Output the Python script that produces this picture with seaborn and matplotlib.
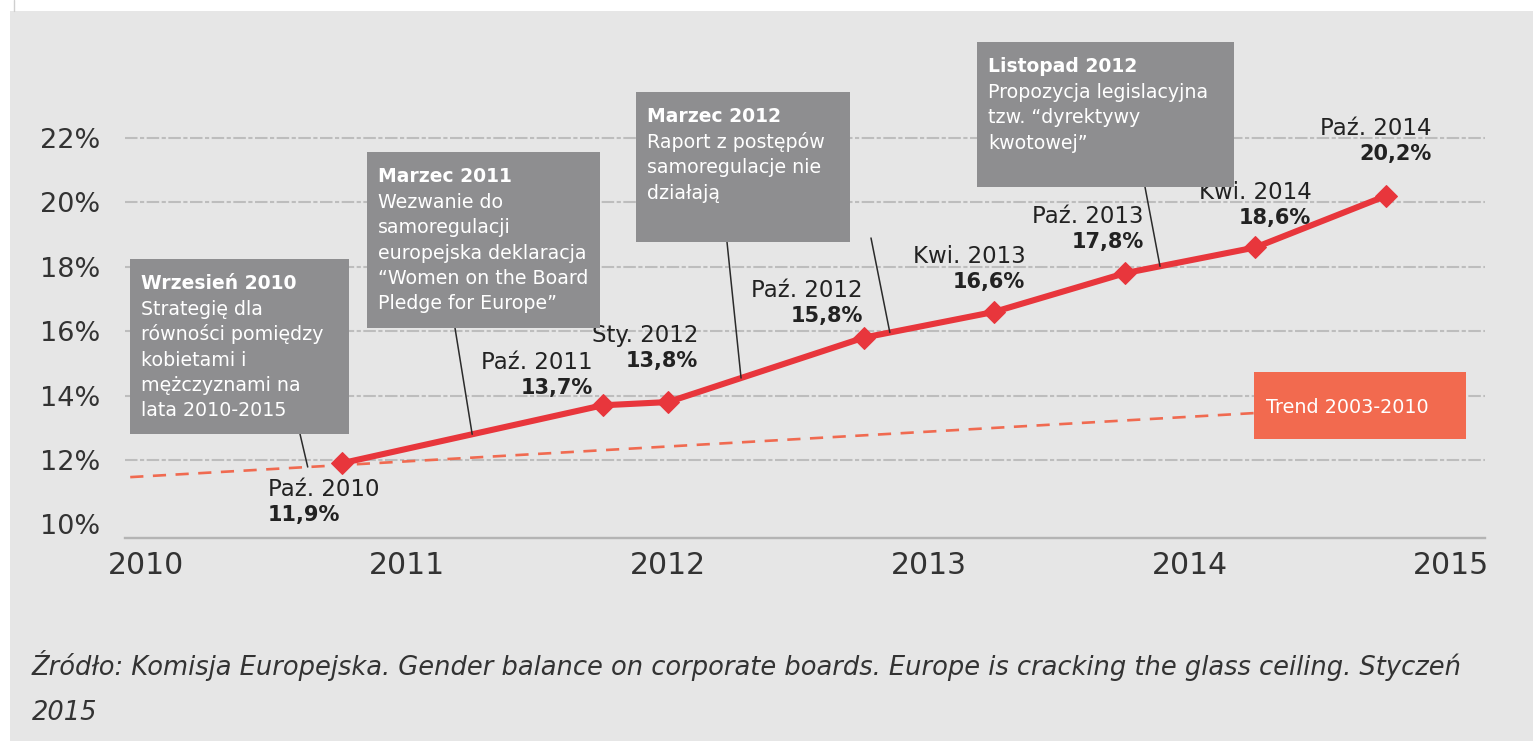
import numpy as np
import matplotlib.pyplot as plt
from matplotlib.patches import Rectangle, ConnectionPatch
import seaborn as sns

# udzial kobiet w radach nadzorczych (UE), rok dziesietny -> %
point_names = ["Paź. 2010", "Paź. 2011", "Sty. 2012", "Paź. 2012",
               "Kwi. 2013", "Paź. 2013", "Kwi. 2014", "Paź. 2014"]
point_years = [2010.75, 2011.75, 2012.0, 2012.75, 2013.25, 2013.75, 2014.25, 2014.75]
point_share = [11.9, 13.7, 13.8, 15.8, 16.6, 17.8, 18.6, 20.2]
point_labels = ["11,9%", "13,7%", "13,8%", "15,8%", "16,6%", "17,8%", "18,6%", "20,2%"]

# trend 2003-2010 (przedluzony)
trend_years = [2009.94, 2014.25]
trend_share = [11.47, 13.46]
trend_label = "Trend 2003-2010"

year_ticks = [2010, 2011, 2012, 2013, 2014, 2015]
pct_ticks = [10, 12, 14, 16, 18, 20, 22]
pct_labels = ["10%", "12%", "14%", "16%", "18%", "20%", "22%"]

event_titles = ["Wrzesień 2010", "Marzec 2011", "Marzec 2012", "Listopad 2012"]
event_texts = [
    ["Strategię dla", "równości pomiędzy", "kobietami i", "mężczyznami na", "lata 2010-2015"],
    ["Wezwanie do", "samoregulacji", "europejska deklaracja",
     "\u201cWomen on the Board", "Pledge for Europe\u201d"],
    ["Raport z postępów", "samoregulacje nie", "działają"],
    ["Propozycja legislacyjna", "tzw. \u201cdyrektywy", "kwotowej\u201d"],
]

source = ["Źródło: Komisja Europejska. Gender balance on corporate boards. "
          "Europe is cracking the glass ceiling. Styczeń", "2015"]

# ---- layout (pixels from top-left of the 1533x741 picture) ----
W, H = 1533, 741
def fx(px):
    return px / W
def fy(py):
    return 1 - py / H

box_px = [(130, 259, 349, 434), (367, 152, 600, 328), (636, 92, 850, 242), (977, 42, 1234, 187)]
# leader: start at box edge (px), end on a series at year t
leaders = [(300, 434, 2010.62, "trend"), (455, 328, 2011.25, "line"),
           (727, 242, 2012.28, "line"), (1145, 187, 2013.885, "line"),
           (871, 238, 2012.85, "line")]
# label offsets (px, right edge / first line centre relative to the point)
lab_off = [(-74, -25), (-10, 44), (30, 68), (-1, 49), (31, 57), (19, 58), (56, 56), (46, 69)]

BG = "#e6e6e6"
RED = "#e8363c"
ORANGE = "#f06a50"
BOXGRAY = "#8e8e90"
TXT = "#333333"

sns.set_theme(style="white")
plt.rcParams["font.family"] = ["DejaVu Sans"]

fig = plt.figure(figsize=(W / 100, H / 100), dpi=100)
fig.patch.set_facecolor("white")
fig.add_artist(Rectangle((fx(10), 0), 1, fy(11), transform=fig.transFigure,
                         facecolor=BG, edgecolor="none", zorder=-10))
fig.add_artist(plt.Line2D([fx(14), fx(14)], [fy(0), fy(11)], transform=fig.transFigure,
                          color="#cfcfcf", lw=1))

ax = fig.add_axes([fx(125), fy(538), fx(1485) - fx(125), fy(12) - fy(538)])
ax.set_facecolor("none")
ax.set_xlim(2009.92, 2015.13)
ax.set_ylim(9.58, 25.91)

for v in pct_ticks[1:]:
    ax.axhline(v, color="#bdbdbd", lw=1.5, ls=(0, (6, 1.2, 2, 1.2)), zorder=1)

ax.set_xticks(year_ticks)
ax.set_xticklabels([str(y) for y in year_ticks])
ax.set_yticks(pct_ticks)
ax.set_yticklabels(pct_labels)
ax.tick_params(axis="x", length=0, pad=9, labelsize=21.5, labelcolor=TXT)
ax.tick_params(axis="y", length=0, pad=18, labelsize=19.5, labelcolor=TXT)
for s in ["top", "right", "left"]:
    ax.spines[s].set_visible(False)
ax.spines["bottom"].set_color("#b4b4b4")
ax.spines["bottom"].set_linewidth(1.7)

sns.lineplot(x=trend_years, y=trend_share, ax=ax, color=ORANGE, lw=1.9,
             linestyle=(0, (5, 3.6)), zorder=3)
sns.lineplot(x=point_years, y=point_share, ax=ax, color=RED, lw=4.4,
             marker="D", markersize=11.5, markeredgecolor=RED, zorder=6)

# data labels
for i, (name, yr, val, lab) in enumerate(zip(point_names, point_years, point_share, point_labels)):
    dx, dy = lab_off[i]
    ha = "left" if i == 0 else "right"
    ax.annotate(name, (yr, val), xytext=(dx, dy - 8), textcoords="offset pixels",
                ha=ha, va="baseline", fontsize=16.5, color="#222222", zorder=7)
    ax.annotate(lab, (yr, val), xytext=(dx, dy - 33), textcoords="offset pixels",
                ha=ha, va="baseline", fontsize=15, fontweight="bold", color="#222222", zorder=7)

# leaders
for x0, y0, t, which in leaders:
    if which == "trend":
        v = np.interp(t, trend_years, trend_share)
    else:
        v = np.interp(t, point_years, point_share)
    con = ConnectionPatch(xyA=(fx(x0), fy(y0)), coordsA="figure fraction",
                          xyB=(t, v), coordsB="data", axesB=ax,
                          color="#2b2b2b", lw=1.1, zorder=4)
    fig.add_artist(con)

# event boxes
for (x0, y0, x1, y1), title, lines in zip(box_px, event_titles, event_texts):
    fig.add_artist(Rectangle((fx(x0), fy(y1)), fx(x1) - fx(x0), fy(y0) - fy(y1),
                             transform=fig.transFigure, facecolor=BOXGRAY,
                             edgecolor="none", zorder=8))
    ty = y0 + 24
    fig.text(fx(x0 + 11), fy(ty + 6), title, color="white", fontsize=13.5,
             fontweight="bold", va="baseline", ha="left", zorder=9)
    for k, line in enumerate(lines):
        fig.text(fx(x0 + 11), fy(ty + 26 + 25.3 * k + 6), line, color="white",
                 fontsize=13.7, va="baseline", ha="left", zorder=9)

# trend box
fig.add_artist(Rectangle((fx(1254), fy(439)), fx(1466) - fx(1254), fy(372) - fy(439),
                         transform=fig.transFigure, facecolor="#f26a4f",
                         edgecolor="none", zorder=8))
fig.text(fx(1266), fy(413), trend_label, color="white", fontsize=13.8,
         va="baseline", ha="left", zorder=9)

# source
fig.text(fx(32), fy(675), source[0], fontsize=18.5, style="italic", color=TXT, va="baseline")
fig.text(fx(32), fy(720), source[1], fontsize=18.5, style="italic", color=TXT, va="baseline")

fig.savefig("out.png", dpi=100, facecolor=fig.get_facecolor())
